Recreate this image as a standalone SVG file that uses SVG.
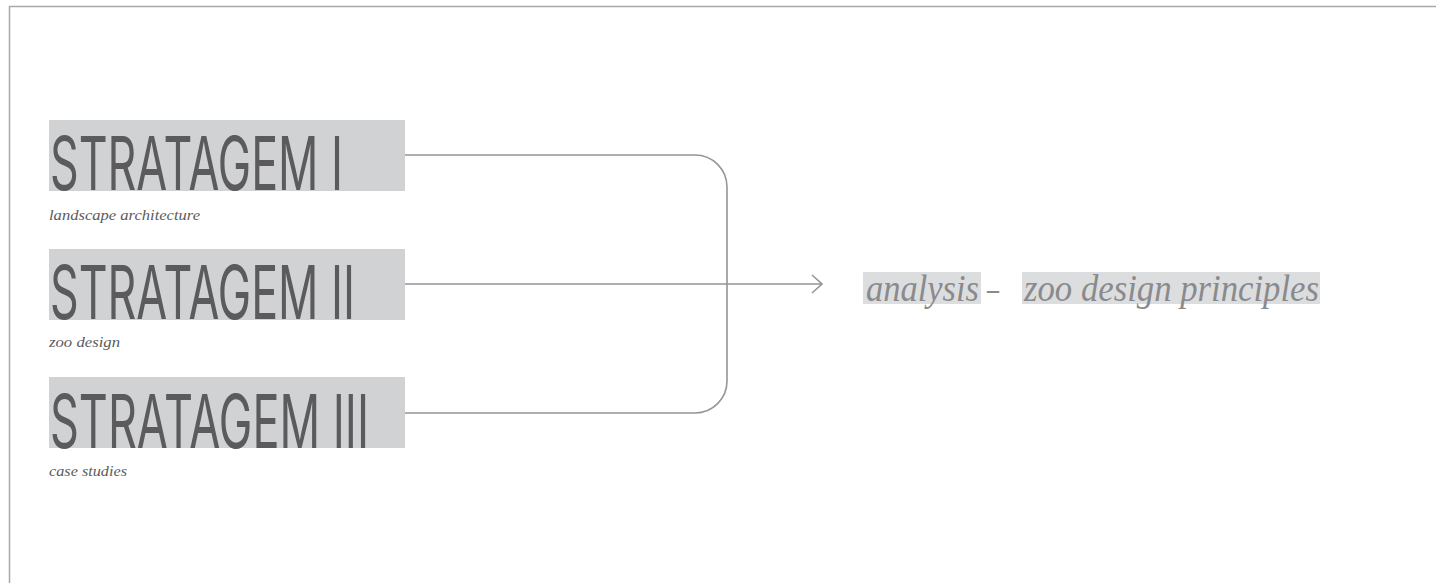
<svg xmlns="http://www.w3.org/2000/svg" width="1436" height="583" viewBox="0 0 1436 583">
<defs>
<style>
.box{fill:#d1d2d4}
.title{font-family:Inter,"Liberation Sans",sans-serif;font-weight:400;font-size:74px;fill:#5b5b5d}
.sub{font-family:"Liberation Serif",serif;font-style:italic;font-size:15px;fill:#5b5b5d}
.out{font-family:"Liberation Serif",serif;font-style:italic;font-size:37px;fill:#8a8a8d}
.hl{fill:#dcdddf}
.conn{fill:none;stroke:#939598;stroke-width:1.6}
.frame{stroke:#a7a9ac;stroke-width:1.5;fill:none}
</style>
<marker id="arr" viewBox="0 0 12 20" markerWidth="12" markerHeight="20" refX="11" refY="10" orient="auto" markerUnits="userSpaceOnUse">
<path d="M1,1 L11,10 L1,19" fill="none" stroke="#939598" stroke-width="1.6"/>
</marker>
</defs>
<rect width="1436" height="583" fill="#ffffff"/>
<path class="frame" d="M9.5,583 V6.5 H1436"/>
<g id="connectors">
<path class="conn" d="M405,155 H695 A32,32 0 0 1 727,187 V381 A32,32 0 0 1 695,413 H405"/>
<path class="conn" d="M405,284 H822" marker-end="url(#arr)"/>
</g>
<g id="node-stratagem-1">
<rect class="box" x="49" y="120" width="356" height="71"/>
<text class="title" x="50" y="190" textLength="293" lengthAdjust="spacingAndGlyphs">STRATAGEM I</text>
<text class="sub" x="49" y="220" textLength="151" lengthAdjust="spacingAndGlyphs">landscape architecture</text>
</g>
<g id="node-stratagem-2">
<rect class="box" x="49" y="249" width="356" height="71"/>
<text class="title" x="50" y="319" textLength="305" lengthAdjust="spacingAndGlyphs">STRATAGEM II</text>
<text class="sub" x="49" y="347" textLength="71" lengthAdjust="spacingAndGlyphs">zoo design</text>
</g>
<g id="node-stratagem-3">
<rect class="box" x="49" y="377" width="356" height="71"/>
<text class="title" x="50" y="448" textLength="319" lengthAdjust="spacingAndGlyphs">STRATAGEM III</text>
<text class="sub" x="49" y="476" textLength="78" lengthAdjust="spacingAndGlyphs">case studies</text>
</g>
<g id="node-analysis">
<rect class="hl" x="863" y="272" width="118" height="32"/>
<rect class="hl" x="1022" y="272" width="298" height="32"/>
<text class="out" x="866" y="301" textLength="113" lengthAdjust="spacingAndGlyphs">analysis</text>
<text class="out" x="987" y="301" textLength="12" lengthAdjust="spacingAndGlyphs">–</text>
<text class="out" x="1024" y="301" textLength="295" lengthAdjust="spacingAndGlyphs">zoo design principles</text>
</g>
</svg>
